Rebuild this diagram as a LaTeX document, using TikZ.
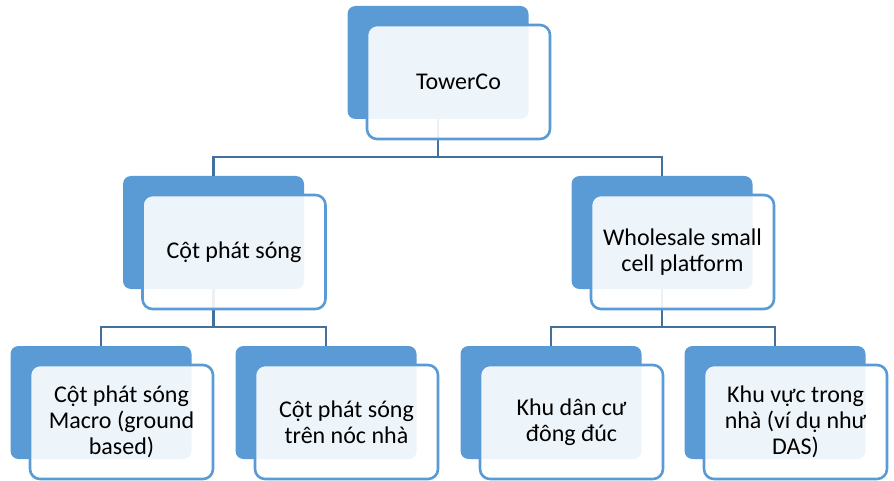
\documentclass[tikz,border=0pt]{standalone}
\usepackage{fontspec}
\setmainfont{Carlito}
\usetikzlibrary{calc}
\definecolor{boxblue}{HTML}{5B9BD5}
\definecolor{linkblue}{HTML}{41719C}

\begin{document}
\begin{tikzpicture}[
    x=1pt, y=-1pt,
    font=\fontsize{24}{26}\selectfont,
    back/.style={fill=boxblue, rounded corners=8pt, inner sep=0pt, outer sep=0pt,
                 minimum width=181pt, minimum height=113pt},
    front/.style={draw=boxblue, line width=2.6pt, fill=white, fill opacity=0.9, text opacity=1,
                  rounded corners=10pt, inner sep=0pt, outer sep=0pt, align=center,
                  minimum width=183pt, minimum height=114pt},
    link/.style={draw=linkblue, line width=2.8pt}
]
\useasboundingbox (0,0) rectangle (894,481);

% Back boxes
\node[back] (tb) at (438,62.5) {};
\node[back] (cb) at (213.5,232.5) {};
\node[back] (wb) at (662,232.5) {};
\node[back] (mb) at (101,402.5) {};
\node[back] (rb) at (326,402.5) {};
\node[back] (db) at (551,402.5) {};
\node[back] (ib) at (775,402.5) {};

% Bus lines
\coordinate (bus1) at (438,157);
\coordinate (bus2) at (213.5,327);
\coordinate (bus3) at (662,327);

% Connections
\draw[link] (tb.south) -- (bus1);
\draw[link] (cb.north) |- (bus1) -| (wb.north);
\draw[link] (cb.south) -- (bus2);
\draw[link] (mb.north) |- (bus2) -| (rb.north);
\draw[link] (wb.south) -- (bus3);
\draw[link] (db.north) |- (bus3) -| (ib.north);

% Front boxes
\node[front] (towerco) at ($(tb)+(20.5,19.5)$) {TowerCo};
\node[front] (cot) at ($(cb)+(20.5,19.5)$) {Cột phát sóng};
\node[front] (wholesale) at ($(wb)+(20.5,19.5)$) {Wholesale small\\cell platform};
\node[front] (macro) at ($(mb)+(20.5,19.5)$) {Cột phát sóng\\Macro (ground\\based)};
\node[front] (roof) at ($(rb)+(20.5,19.5)$) {Cột phát sóng\\trên nóc nhà};
\node[front] (dense) at ($(db)+(20.5,19.5)$) {Khu dân cư\\đông đúc};
\node[front] (indoor) at ($(ib)+(20.5,19.5)$) {Khu vực trong\\nhà (ví dụ như\\DAS)};

\end{tikzpicture}
\end{document}
